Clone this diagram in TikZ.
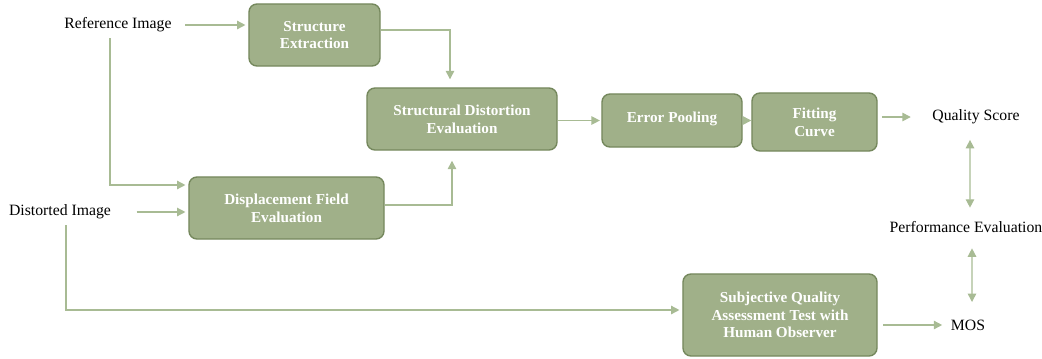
\documentclass[tikz,border=0pt]{standalone}
\usepackage{fontspec}
\setmainfont{Liberation Serif}
\usepackage{tikz}
\usetikzlibrary{arrows.meta,positioning}
\definecolor{boxfill}{RGB}{160,176,137}
\definecolor{boxline}{RGB}{117,136,93}
\definecolor{flowline}{RGB}{168,187,148}
\tikzset{
  stage/.style={draw=boxline,line width=1pt,fill=boxfill,rounded corners=0.2cm,
    text=white,font=\fontsize{10.8}{12.6}\selectfont\bfseries,align=center,inner sep=2pt},
  term/.style={font=\fontsize{11.2}{13}\selectfont,inner sep=1pt},
  flow/.style={draw=flowline,line width=1pt,-{Triangle[length=6pt,width=6pt]},shorten >=2pt},
  both/.style={draw=flowline,line width=1pt,{Triangle[length=6pt,width=6pt]}-{Triangle[length=6pt,width=6pt]}}
}
\begin{document}
\begin{tikzpicture}[x=0.025cm,y=-0.025cm]
%
\useasboundingbox (0,0) rectangle (1042,358);
%
\node[term] (ref) at (118,25) {Reference Image};
\node[term] (dist) at (60,212) {Distorted Image};
\node[term] (qs) at (976,117) {Quality Score};
\node[term] (perf) at (966,227) {Performance Evaluation};
\node[term] (mos) at (968,325) {MOS};
%
\node[stage,minimum width=3.275cm,minimum height=1.55cm] (sext) at (314.5,35) {Structure\\Extraction};
\node[stage,minimum width=4.75cm,minimum height=1.55cm] (sde) at (462,119) {Structural Distortion\\Evaluation};
\node[stage,minimum width=3.5cm,minimum height=1.325cm] (pool) at (672,120.5) {\raisebox{0.17cm}{Error Pooling}};
\node[stage,minimum width=3.125cm,minimum height=1.45cm] (fit) at (814.5,122) {Fitting\\Curve};
\node[stage,minimum width=4.875cm,minimum height=1.55cm] (dfe) at (286.5,208) {Displacement Field\\Evaluation};
\node[stage,minimum width=4.85cm,minimum height=2.05cm] (sqa) at (780,315) {Subjective Quality\\Assessment Test with\\Human Observer};
%
\draw[flow,shorten <=0.3cm] (ref.east) -- (sext.west |- ref.east);
\draw[flow,shorten >=0.2cm] ([yshift=0.125cm]sext.east) -| ([xshift=-0.3cm]sde.north);
\draw[flow,shorten <=3pt] ([xshift=-0.2cm]ref.south) |- ([yshift=0.575cm]dfe.west);
\draw[flow,shorten <=0.6cm] (dist.east) -- (dfe.west |- dist.east);
\draw[flow,shorten >=0.25cm] ([yshift=0.075cm]dfe.east) -| ([xshift=-0.25cm]sde.south);
\draw[flow,shorten <=3pt] ([xshift=0.15cm]dist.south) |- ([yshift=0.125cm]sqa.west);
\draw[flow,shorten >=1pt] (sde.east |- pool) -- (pool.west);
\draw[flow,shorten >=0pt] (pool.east) -- (fit.west |- pool.east);
\draw[flow,shorten <=3pt,shorten >=0.5cm] (fit.east |- qs) -- (qs.west);
\draw[flow,shorten <=4pt,shorten >=5pt] (sqa.east |- mos) -- (mos.west);
%
\draw[both,shorten <=0.35cm,shorten >=0.3cm] ([xshift=-0.15cm]qs.south) -- ([xshift=0.1cm]perf.north);
\draw[both,shorten <=0.35cm,shorten >=0.4cm] ([xshift=0.15cm]perf.south) -- ([xshift=0.1cm]mos.north);
%
\end{tikzpicture}
\end{document}
